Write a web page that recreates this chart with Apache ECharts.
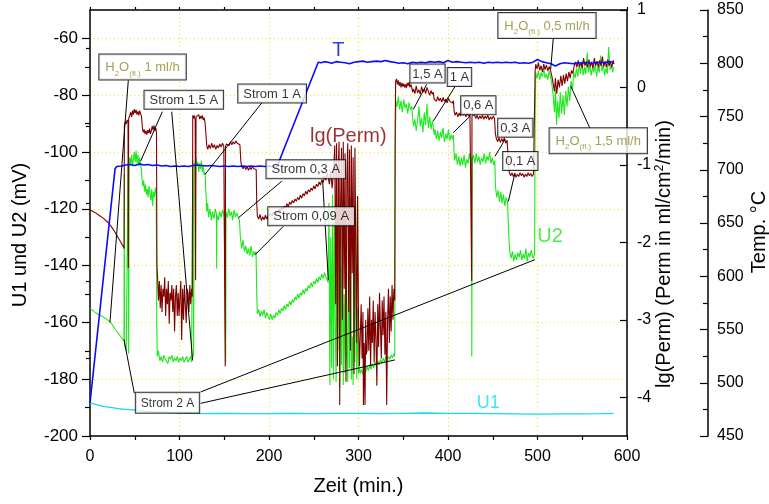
<!DOCTYPE html>
<html>
<head>
<meta charset="utf-8">
<title>U1, U2, lg(Perm), Temp.</title>
<script src="https://cdn.jsdelivr.net/npm/echarts@6/dist/echarts.min.js"></script>
<style>
html, body { margin: 0; padding: 0; background: #fff; }
#main { width: 769px; height: 504px; }
</style>
</head>
<body>
<div id="main"></div>
<script>
// Messwerte: [Zeit (min), Wert]
var u1Data = [
	[0,-188.3],[5,-188.8],[10,-189.2],[15,-189.6],[20,-189.8],[25,-190.0],[30,-190.3],[35,-190.5],[40,-190.6],[48,-190.8],
	[55,-191.1],[62,-191.3],[70,-191.4],[80,-191.6],[90,-191.8],[100,-191.9],[114,-192.0],[130,-192.1],[150,-192.0],[175,-192.1],
	[200,-192.1],[225,-192.0],[250,-192.1],[275,-192.0],[300,-192.0],[325,-192.1],[350,-192.0],[375,-191.9],[400,-192.0],[425,-192.0],
	[450,-192.1],[475,-192.2],[500,-192.3],[525,-192.2],[550,-192.2],[570,-192.1],[585,-192.0]
];

var u2Data = [
	[0,-155],[5,-156.3],[10,-157.3],[15,-158.1],[20,-159.2],[24,-160.4],[28,-162.4],[32,-164],[35,-165.3],[38,-166.5],
	[38.3,-108],[38.6,-168],[40.5,-170],[42.3,-170.5],[42.6,-104],[43.2,-171],[43.8,-103],
	[44.5,-102],[45.5,-104.5],[46.5,-101],[47.5,-105],[48.5,-102.5],[49.5,-100],[50.5,-103.5],[51.5,-99.5],[52.5,-104],[53.5,-101],[54.5,-105],[55.5,-102],[56.5,-104.5],[57.5,-106],
	[58,-109],[59,-112],[60,-110],[61,-114],[62,-111.5],[63,-115],[64,-113],[65,-116],[66,-112],[67,-114.5],[68,-117],[69,-113],[70,-119],[71,-114],[72,-116],[73,-112.5],[74,-115],
	[74.6,-160],[75.2,-172],[76.5,-170],[78,-173.5],[79.5,-172],[81,-174],[82.5,-171.5],[84,-173],[85.5,-172.5],[87,-174.5],[88.5,-172],[90,-173],[91.5,-171.5],[93,-174],[94.5,-172.5],
	[96,-173.5],[97.5,-172],[99,-174],[100.5,-172.5],[102,-173.5],[103.5,-172],[105,-174],[106.5,-173],[108,-172],[109.5,-174],[111,-173],[112.5,-172],[113.5,-174],
	[114.5,-120],[115,-103],[115.8,-172],[116.5,-104],[117.5,-106],[118.5,-102],[119.5,-105],[120.5,-103.5],[121.5,-107],[122.5,-104],[123.5,-106],[124.5,-103],[125.5,-107],[126.5,-105],[127.5,-108],[128.5,-107],
	[129.5,-114],[130.5,-121],[131.5,-118],[132.5,-123],[134,-120],[135.5,-124],[137,-121],[138.5,-123.5],[140,-120],[141.3,-122],[141.5,-141],[141.8,-122],[143.5,-124],[145,-121],[146.5,-123],
	[148,-120.5],[150,-122.5],[151.3,-122],[151.6,-174],[152,-121],[153.5,-123],[155,-120],[156.5,-122.5],[158,-121],[159.5,-124],[161,-120.5],[162.5,-123],[164,-121.5],[165.5,-122],[167,-124],
	[168,-130],[169.5,-134],[171,-131],[172.5,-135],[174,-133],[175.5,-136],[177,-134],[178.5,-136.5],[180,-133],[181.5,-137],[183,-135],[184.5,-136],[185.5,-135],
	[186.3,-150],[187,-157],[188.5,-155.5],[190,-158],[191.5,-156],[193,-157.5],[194.5,-155.5],[196,-158.5],[197.5,-156.5],[199,-158],[200.5,-159],[202,-157],[203.5,-159],[205,-157.5],
	[206.5,-158.5],[208,-156.5],[209.5,-157.5],[211,-155.5],[212.5,-157],[214,-155],[215.5,-156],[217,-154],[218.5,-155.5],[220,-153.5],[221.5,-154.5],[223,-152.5],[224.5,-154],[226,-152],
	[227.5,-153],[229,-151],[230.5,-152],[232,-150],[233.5,-151.5],[235,-149.5],[236.5,-150.5],[238,-148.5],[239.5,-150],[241,-148],[242.5,-149],[244,-147],[245.5,-148],[247,-146],
	[248.5,-147.5],[250,-145.5],[251.5,-146.5],[253,-144.5],[254.5,-146],[256,-144],[257.5,-145],[259,-143],[260.5,-144.5],[262,-142.5],[263.5,-144],[265,-145],
	[266,-146],[267,-118],[268,-182],[269,-130],[270,-176],[271,-115],[272,-180],[273,-125],[274,-160],[275,-181],[276,-120],[277,-170],[278,-114],[279,-183],[280,-140],[281,-175],
	[282,-117],[283,-182],[284,-150],[285,-178],[286,-122],[287,-172],[288,-181],[289,-130],[290,-176],[291,-116],[292,-180],[293,-165],[294,-182],[295,-135],[296,-174],[297,-118],
	[298,-180],[299,-155],[300,-178],[301,-176],
	[302,-178],[303.5,-176.5],[305,-178.5],[306.5,-176],[308,-177.5],[309.5,-175.5],[311,-177],[312.5,-175],[314,-176.5],[315.5,-174.5],[317,-176],[318.5,-174],[320,-175.5],[321.5,-173.5],
	[323,-175],[324.5,-173],[326,-174.5],[327.5,-172.5],[329,-174],[330.5,-172],[332,-173.5],[333.5,-172],[335,-173],[336.5,-171.5],[338,-172.5],[339.5,-171],[340.5,-172],
	[341,-100],[341.8,-82],[343,-84],[344.5,-80.5],[346,-85],[347.5,-82],[349,-86],[350.5,-81.5],[352,-84.5],[353.5,-83],[355,-86.5],[356.5,-82.5],[358,-85],[359.5,-84],
	[360.5,-88],[361.5,-91],[363,-88.5],[364.5,-92.5],[366,-89],[367.5,-84],[369,-91],[370.5,-88],[372,-93],[373.5,-86],[375,-90.5],[376.5,-83],[378,-91.5],[379.5,-87.5],[381,-92],[382.5,-89],[383.5,-91],
	[384.5,-94],[385.5,-92],[387,-95.5],[388.5,-92.5],[390,-96],[391.5,-93],[393,-95],[394.5,-91.5],[396,-96.5],[397.5,-93.5],[399,-95.5],[400.5,-92],[402,-96],[403.5,-94],[405,-95.5],[406,-94],
	[406.8,-100],[407.5,-103],[409,-100.5],[410.5,-104.5],[412,-101.5],[413.5,-105],[415,-102],[416.5,-104.5],[418,-101],[419.5,-105.5],[421,-102.5],[422.5,-104],[424,-100.5],[425.5,-103.5],
	[426.3,-102],[426.6,-172],[427,-103],[428.5,-101],[430,-104],[431.5,-100.5],[433,-103.5],[434.5,-101.5],[436,-104.5],[437.5,-102],[439,-103.5],[440.5,-100.5],[442,-104],[443.5,-101.5],
	[445,-103],[446.5,-100],[448,-104],[449.5,-102],[451,-104.5],[452.3,-103],
	[453,-112],[454.5,-116],[456,-113.5],[457.5,-117.5],[459,-114],[460.5,-118],[462,-115],[463.5,-119],[465,-116],[466.5,-117.5],[467.3,-118],
	[468,-130],[469,-135],[470.5,-137.5],[472,-135],[473.5,-138.5],[475,-136],[476.5,-138],[478,-135.5],[479.5,-137],[481,-134.5],[482.5,-138],[484,-136],[485.5,-137.5],[487,-134],
	[488.5,-138.5],[490,-135.5],[491.5,-137],[493,-134.5],[495,-137.5],[496.8,-136],
	[497.3,-90],[498,-72],[499.5,-74],[501,-71.5],[502.5,-74.5],[504,-72],[505.5,-73.5],[507,-70.5],[508.5,-74],[510,-72.5],[511.5,-74.5],[513,-71.5],[514.5,-73.5],[516,-76],
	[517.5,-80],[519,-86],[520,-78],[521.3,-90.5],[522.5,-82],[524,-88],[525.5,-79],[527,-86.5],[528.5,-80],[530,-87],[531.5,-78.5],[533,-84],[534.5,-77],[536,-82],[537.5,-75],[539,-78],
	[540.5,-72],[542,-74],[543.5,-70.5],[545,-73.5],[546.5,-69],[548,-72.5],[549.5,-68],[551,-73],[552.5,-70],[554,-72.5],[555.5,-65],[557,-72],[558.5,-69.5],[560,-73],[561.5,-70],
	[563,-72],[564.5,-69],[566,-73.5],[567.5,-70],[569,-72],[570.5,-66],[572,-71.5],[573.5,-69],[575,-73],[576.5,-70.5],[578,-72.5],[579.5,-63],[581,-71],[582.5,-69.5],[584,-72],[585,-70]
];

var permData = [
	[0,-1.58],[5,-1.61],[10,-1.65],[15,-1.69],[20,-1.74],[24,-1.8],[28,-1.87],[31,-1.93],[34,-1.99],[37,-2.05],[38.1,-2.08],
	[38.4,-0.5],[39.5,-0.44],[40.5,-0.47],[41.5,-0.42],[42.5,-0.45],[42.8,-2.33],[43.2,-0.4],[44.5,-0.36],[45.5,-0.32],[46.5,-0.38],[47.5,-0.3],[48.5,-0.35],[49.5,-0.28],[50.5,-0.33],
	[51.5,-0.29],[52.5,-0.35],[53.5,-0.31],[54.5,-0.36],[55.5,-0.3],[56.5,-0.34],[57.5,-0.37],
	[58.5,-0.52],[59.5,-0.58],[60.5,-0.54],[61.5,-0.6],[62.5,-0.56],[63.5,-0.61],[64.5,-0.55],[65.5,-0.59],[66.5,-0.53],[67.5,-0.6],[68.5,-0.56],[69.5,-0.5],[70.5,-0.55],[71.5,-0.49],
	[72.5,-0.56],[73.5,-0.52],[74.3,-0.58],
	[74.8,-2.3],[75.5,-2.45],[76.5,-2.75],[77.5,-2.5],[78.5,-2.85],[79.5,-2.55],[80.5,-2.9],[81.5,-2.6],[82.5,-2.7],[83.5,-2.45],[84.5,-2.95],[85.5,-2.6],[86.5,-2.8],[87.5,-2.5],
	[88.5,-3.05],[89.5,-2.65],[90.5,-2.75],[91.5,-2.55],[92.5,-2.9],[93.5,-2.6],[94.5,-3.15],[95.5,-2.7],[96.5,-2.55],[97.5,-2.95],[98.5,-2.65],[99.5,-2.95],[100.5,-2.7],[101.5,-2.5],
	[102.4,-3.26],[103.5,-2.6],[104.5,-3.0],[105.5,-2.55],[106.5,-2.8],[107.5,-3.04],[108.5,-2.6],[109.5,-2.65],[110.5,-2.9],[111.5,-2.55],[112.5,-2.8],[113.5,-2.6],[114.3,-2.7],
	[114.8,-0.36],[115.5,-0.4],[116.5,-0.36],[117.5,-0.42],[118,-2.49],[118.5,-0.38],[119.5,-0.36],[120.5,-0.4],[121.5,-0.35],[122.5,-0.41],[123.5,-0.37],[124.5,-0.4],[125.5,-0.36],
	[126.5,-0.42],[127.5,-0.39],[128.5,-0.45],
	[129.5,-0.6],[130.5,-0.75],[131.5,-0.8],[133,-0.74],[134.5,-0.79],[136,-0.72],[137.5,-0.78],[139,-0.74],[140.5,-0.8],[142,-0.75],[143.5,-0.78],[145,-0.73],[146.5,-0.77],[148,-0.72],
	[149.5,-0.76],[150.8,-0.74],[151.1,-3.6],[151.4,-0.76],[152.5,-0.73],[154,-0.71],[155.5,-0.75],[157,-0.7],[158.5,-0.74],[160,-0.7],[161.5,-0.73],[163,-0.69],[164.5,-0.72],[166,-0.7],[167.5,-0.74],
	[168.5,-0.95],[169.5,-1.02],[171,-1.05],[172.5,-1.01],[174,-1.06],[175.5,-1.02],[177,-1.07],[178.5,-1.03],[180,-1.06],[181.5,-1.02],[183,-1.05],[184.5,-1.04],[185.7,-1.06],
	[186.3,-1.5],[187,-1.66],[188.5,-1.7],[190,-1.64],[191.5,-1.72],[193,-1.67],[194.5,-1.71],[196,-1.65],[197.5,-1.7],[199,-1.66],[200.5,-1.68],[202,-1.63],[203.5,-1.66],[205,-1.61],
	[206.5,-1.64],[208,-1.59],[209.5,-1.62],[211,-1.57],[212.5,-1.6],[214,-1.55],[215.5,-1.58],[217,-1.53],[218.5,-1.56],[220,-1.5],[221.5,-1.54],[223,-1.48],[224.5,-1.51],[226,-1.46],
	[227.5,-1.49],[229,-1.44],[230.5,-1.47],[232,-1.42],[233.5,-1.45],[235,-1.39],[236.5,-1.43],[238,-1.37],[239.5,-1.4],[241,-1.34],[242.5,-1.38],[244,-1.32],[245.5,-1.35],[247,-1.3],
	[248.5,-1.33],[250,-1.27],[251.5,-1.31],[253,-1.25],[254.5,-1.28],[256,-1.22],[257.5,-1.26],[259,-1.19],[260.5,-1.23],[262,-1.14],[263.5,-1.2],[265,-1.1],
	[266,-1.15],[267.5,-1.25],[269,-1.08],[270.5,-1.3],[272,-1.12],[273.5,-0.75],[274.5,-2.8],[275.5,-0.72],[276.5,-3.6],[277.5,-1.0],[278.3,-0.7],[279,-4.1],[280,-1.5],[281,-0.78],
	[282,-3.0],[283,-0.7],[284,-2.6],[285,-0.85],[286,-3.8],[287,-1.2],[288,-0.72],[289,-2.9],[290,-0.8],[291,-3.4],[292,-0.75],[293,-2.4],[294,-0.9],[295,-3.7],[296,-0.78],[297,-2.1],
	[298,-3.3],[299,-1.4],[300,-3.0],[301,-3.6],
	[302,-3.2],[303,-2.8],[304,-3.5],[305,-2.9],[305.5,-4.1],[306.3,-3.3],[307.3,-4.1],[308,-3.0],[308.5,-3.45],[309.5,-3.4],[310.5,-2.85],[311.5,-3.4],[312.5,-2.7],[313.5,-3.6],
	[314.5,-3.0],[315.5,-3.3],[316.5,-2.75],[317.5,-3.55],[318.5,-2.9],[319.5,-3.25],[320.5,-3.85],[321.5,-2.8],[322.5,-3.35],[323.5,-2.65],[324.5,-3.1],[325.5,-3.5],[326.5,-2.75],
	[327.5,-3.2],[328.5,-2.7],[329.5,-3.45],[330.5,-2.9],[331.5,-4.1],[332.5,-3.0],[333.5,-2.6],[334.5,-3.3],[335.5,-2.7],[336.5,-3.15],[337.5,-2.55],[338.5,-3.0],[339.5,-2.6],[340.5,-2.75],
	[341,-0.5],[341.5,0.08],[342.5,0.11],[343.5,0.04],[344.5,0.09],[345.5,0.02],[346.5,0.07],[347.5,0.0],[348.5,0.06],[349.5,0.01],[350.5,0.05],[351.5,0.0],[352.5,0.04],[353.5,-0.01],
	[354.5,0.06],[355.5,0.02],[356.5,0.07],[357.5,0.0],[358.5,0.04],[359.5,0.0],
	[360.5,-0.06],[361.5,-0.02],[363,-0.08],[364.5,0.02],[366,-0.07],[367.5,-0.03],[369,-0.09],[370.5,0.01],[372,-0.06],[373.5,-0.02],[375,-0.08],[376.5,0.0],[378,-0.05],[379.5,-0.1],
	[381,-0.04],[382.5,-0.09],[383.5,-0.06],
	[384.5,-0.15],[385.5,-0.13],[387,-0.18],[388.5,-0.12],[390,-0.17],[391.5,-0.14],[393,-0.19],[394.5,-0.13],[396,-0.18],[397.5,-0.15],[399,-0.2],[400.5,-0.14],[402,-0.18],[403.5,-0.16],
	[405,-0.2],[406,-0.17],
	[406.8,-0.3],[408,-0.36],[409.5,-0.32],[411,-0.38],[412.5,-0.33],[414,-0.37],[415.5,-0.31],[417,-0.36],[418.5,-0.33],[420,-0.38],[421.5,-0.32],[423,-0.37],[424.5,-0.34],[426.2,-0.36],
	[426.5,-2.5],[426.8,-0.37],[428,-0.38],[429.5,-0.35],[431,-0.4],[432.5,-0.36],[434,-0.41],[435.5,-0.37],[437,-0.4],[438.5,-0.36],[440,-0.41],[441.5,-0.37],[443,-0.4],[444.5,-0.36],
	[446,-0.42],[447.5,-0.38],[449,-0.41],[450.5,-0.37],[452,-0.4],
	[453,-0.6],[454,-0.66],[455.5,-0.7],[457,-0.65],[458.5,-0.71],[460,-0.66],[461.5,-0.7],[463,-0.65],[464.5,-0.72],[466,-0.68],[467.2,-0.7],
	[467.8,-1.0],[468.5,-1.1],[470,-1.14],[471.5,-1.1],[473,-1.15],[474.5,-1.11],[476,-1.16],[477.5,-1.12],[479,-1.15],[480.5,-1.1],[482,-1.14],[483.5,-1.11],[485,-1.16],[486.5,-1.12],
	[488,-1.15],[489.5,-1.1],[491,-1.14],[492.5,-1.11],[494,-1.15],[495.5,-1.12],[497,-1.13],
	[497.3,0.2],[498,0.3],[499.5,0.24],[501,0.32],[502.5,0.22],[504,0.28],[505.5,0.2],[507,0.3],[508.5,0.23],[510,0.29],[511.5,0.21],[513,0.27],[514.5,0.22],[516,0.15],
	[517.5,0.05],[519,-0.05],[520,0.12],[521.5,-0.08],[523,0.1],[524.5,0.0],[526,0.15],[527.5,0.02],[529,0.16],[530.5,0.05],[532,0.18],[533.5,0.08],[535,0.2],[536.5,0.12],[538,0.22],[539.5,0.18],
	[541,0.28],[542.5,0.33],[544,0.26],[545.5,0.35],[547,0.27],[548.5,0.32],[550,0.25],[551.5,0.38],[553,0.28],[554.5,0.33],[556,0.26],[557.5,0.36],[559,0.27],[560.5,0.33],[562,0.25],
	[563.5,0.38],[565,0.28],[566.5,0.34],[568,0.26],[569.5,0.35],[571,0.28],[572.5,0.4],[574,0.27],[575.5,0.34],[577,0.26],[578.5,0.36],[580,0.28],[581.5,0.33],[583,0.26],[584.5,0.35],[585.5,0.3]
];

var tempData = [
	[0,481],[28,701],[30,703],[35,703.5],[40,704.5],[45,705],[50,704],[55,705.5],[60,704.5],[65,705],[70,704],[75,704.5],[80,703.5],[85,704],[90,703],[95,703.5],
	[100,703],[105,703.5],[110,703],[115,704],[120,704.5],[125,704],[130,703.5],[135,704],[140,703.5],[145,703],[150,703.5],[155,703],[160,703.5],[165,703],[170,703.5],
	[175,703],[180,703.5],[185,703],[190,703.5],[195,703],[200,703.5],[205,703],[209,703],[255,801],[258,800.5],[262,801.5],[266,801],[270,800],[275,801.5],[280,801],
	[285,800.5],[290,799.5],[295,801],[300,801.5],[305,802],[310,801],[315,801.5],[320,802],[325,801.5],[330,802.5],[335,801.5],[340,801],[345,800],[350,800.5],[355,799.5],
	[360,801],[365,800.5],[370,801],[375,800.5],[380,801.5],[385,801],[390,801.5],[395,800.5],[400,802.5],[405,801],[410,801.5],[415,801],[420,800.5],[425,801],[430,800.5],
	[435,801],[440,800],[445,801],[450,800.5],[455,801],[460,800.5],[465,801],[470,800.5],[475,801],[480,800],[485,800.5],[490,800],[495,801],[500,803.5],[505,801.5],
	[510,800.5],[515,799.5],[520,797.5],[525,799.5],[530,800.5],[535,800],[540,799.5],[545,800.5],[550,800],[555,801],[560,800],[565,800.5],[570,801],[575,800.5],[580,801.5],[585,801]
];

// Achsenteilung
var mvTicks = [-200, -180, -160, -140, -120, -100, -80, -60];
var mvMinorTicks = [-190, -170, -150, -130, -110, -90, -70];
var permTicks = [-4, -3, -2, -1, 0, 1];
var permMinorTicks = [-3.5, -2.5, -1.5, -0.5, 0.5];

// Kaesten: [Zeit, mV, Text, Art]
var boxNotes = [
	[58.7, -70.1, '1 ml/h', 'h2o'],
	[104.8, -81.6, 'Strom 1.5 A', 'box'],
	[203.5, -79.4, 'Strom 1 A', 'box'],
	[241.1, -106.1, 'Strom 0,3 A', 'box'],
	[247.1, -122.6, 'Strom 0,09 A', 'box'],
	[377.1, -72.4, '1,5 A', 'tag'],
	[412.8, -73.6, '1 A', 'tag'],
	[433.9, -83.5, '0,6 A', 'tag'],
	[475.2, -91.5, '0,3 A', 'tag'],
	[480.8, -103.2, '0,1 A', 'tag'],
	[510.6, -55.5, '0,5 ml/h', 'h2o'],
	[567.9, -96.0, '1,5 ml/h', 'h2o'],
	[86.6, -188.3, 'Strom 2 A', 'small']
];

// Kurvennamen: [Zeit, mV, Text]
var curveNames = [
	[277.4, -64.4, 'T'],
	[288.6, -94.4, 'lg(Perm)'],
	[514.0, -129.8, 'U2'],
	[445.0, -188.5, 'U1']
];

// Pfeile: [Zeit von, mV von, Zeit bis, mV bis]
var arrows = [
	[42.8, -74.8, 22.3, -160.0],
	[80.8, -85.8, 56.6, -103.2],
	[91.3, -85.8, 114.7, -173.4],
	[192.2, -82.6, 128.5, -107.9],
	[214.2, -110.3, 165.7, -123.2],
	[260.0, -110.3, 266.3, -145.0],
	[216.0, -126.2, 184.4, -136.2],
	[376.2, -76.2, 361.2, -85.0],
	[407.8, -77.0, 383.6, -89.1],
	[424.6, -87.4, 405.9, -93.2],
	[463.7, -95.6, 452.5, -101.5],
	[474.9, -107.3, 467.4, -117.4],
	[517.6, -60.1, 514.7, -70.9],
	[558.4, -91.5, 537.1, -76.8],
	[49.5, -184.9, 38.0, -166.1],
	[123.6, -184.5, 497.2, -137.9],
	[123.6, -188.5, 340.8, -173.2]
];

var FONT = "'Liberation Sans', Arial, sans-serif";
var OLIVE = '#8a8a28';
var nameColors = { 'T': '#0000ff', 'lg(Perm)': '#800000', 'U2': '#1ee81e', 'U1': '#14dcec' };
var nameSizes = { 'T': 20, 'lg(Perm)': 20, 'U2': 20, 'U1': 18 };

function noteText(n) {
	if (n[3] === 'h2o') {
		return '{h|H}{s|2}{h|O}{s|(fl.)}{h| ' + n[2] + '}';
	}
	return '{b|' + n[2] + '}';
}

function notePadding(kind) {
	if (kind === 'h2o') return [3, 6, 2, 6];
	if (kind === 'tag') return [2, 2, 1, 2];
	if (kind === 'small') return [3, 5, 2, 5];
	return [2, 5, 1, 5];
}

var axisLine = { show: true, onZero: false, lineStyle: { color: '#000', width: 1.5 } };
var tickStyle = { color: '#000', width: 1.2 };
var gridLine = { color: '#e8e800', type: [1, 3], width: 1 };

var chart = echarts.init(document.getElementById('main'));

var option = {
	animation: false,
	backgroundColor: '#fff',
	textStyle: { fontFamily: FONT },
	grid: { left: 90, right: 142, top: 10, bottom: 68, containLabel: false, outerBoundsMode: 'none' },
	xAxis: [
		{
			type: 'value', min: 0, max: 600, interval: 100, position: 'bottom',
			axisLine: axisLine,
			axisTick: { length: 4, lineStyle: tickStyle },
			minorTick: { show: true, splitNumber: 2, length: 4, lineStyle: tickStyle },
			axisLabel: { fontSize: 16, color: '#000', margin: 13, fontFamily: FONT },
			splitLine: { show: true, lineStyle: gridLine },
			name: 'Zeit (min.)', nameLocation: 'middle', nameGap: 40, nameMoveOverlap: false,
			nameTextStyle: { fontSize: 20, color: '#000', fontFamily: FONT }
		},
		{
			type: 'value', min: 0, max: 600, interval: 50, position: 'top',
			axisLine: axisLine,
			axisTick: { length: 3, lineStyle: tickStyle },
			axisLabel: { show: false },
			splitLine: { show: false }
		}
	],
	yAxis: [
		{
			type: 'value', min: -200, max: -50, interval: 20, position: 'left',
			axisLine: axisLine,
			axisTick: { length: 8, lineStyle: tickStyle, customValues: mvTicks },
			axisLabel: { fontSize: 17, color: '#000', margin: 12, fontFamily: FONT, customValues: mvTicks },
			splitLine: { show: true, lineStyle: gridLine },
			name: 'U1 und U2 (mV)', nameLocation: 'middle', nameGap: 60, nameMoveOverlap: false,
			nameTextStyle: { fontSize: 20, color: '#000', fontFamily: FONT, padding: [0, 24, 0, 0] }
		},
		{
			// kleine Striche links
			type: 'value', min: -200, max: -50, interval: 10, position: 'left',
			axisLine: { show: false },
			axisTick: { length: 5, lineStyle: tickStyle, customValues: mvMinorTicks },
			axisLabel: { show: false },
			splitLine: { show: false }
		},
		{
			type: 'value', min: -4.5, max: 1, splitNumber: 5, position: 'right',
			axisLine: axisLine,
			axisTick: { inside: true, length: 7, lineStyle: tickStyle, customValues: permTicks },
			axisLabel: { fontSize: 16, color: '#000', margin: 10, fontFamily: FONT, customValues: permTicks },
			splitLine: { show: false },
			name: '{n|lg(Perm) (Perm in ml/cm}{sup|2}{n|/min)}', nameLocation: 'middle', nameGap: 27, nameMoveOverlap: false,
			nameTextStyle: {
				fontSize: 20, color: '#000', fontFamily: FONT, padding: [0, 62, 0, 0],
				rich: {
					n: { fontSize: 20, color: '#000', fontFamily: FONT },
					sup: { fontSize: 12, color: '#000', fontFamily: FONT, verticalAlign: 'top', lineHeight: 12 }
				}
			}
		},
		{
			// kleine Striche rechts
			type: 'value', min: -4.5, max: 1, interval: 0.5, position: 'right',
			axisLine: { show: false },
			axisTick: { inside: true, length: 4, lineStyle: tickStyle, customValues: permMinorTicks },
			axisLabel: { show: false },
			splitLine: { show: false }
		},
		{
			type: 'value', min: 450, max: 850, interval: 50, position: 'right', offset: 81,
			axisLine: axisLine,
			axisTick: { inside: true, length: 8, lineStyle: tickStyle },
			minorTick: { show: true, splitNumber: 2, length: 5, lineStyle: tickStyle },
			axisLabel: { fontSize: 16, color: '#000', margin: 9, fontFamily: FONT },
			splitLine: { show: false },
			name: 'Temp. °C', nameLocation: 'middle', nameGap: 41, nameMoveOverlap: false,
			nameTextStyle: { fontSize: 20, color: '#000', fontFamily: FONT, padding: [0, 18, 0, 0] }
		}
	],
	series: [
		{
			name: 'U1', type: 'line', xAxisIndex: 0, yAxisIndex: 0, data: u1Data,
			showSymbol: false, symbol: 'none', silent: true,
			lineStyle: { color: '#14dcec', width: 1.3 }
		},
		{
			name: 'U2', type: 'line', xAxisIndex: 0, yAxisIndex: 0, data: u2Data,
			showSymbol: false, symbol: 'none', silent: true,
			lineStyle: { color: '#1ee81e', width: 1.1 }
		},
		{
			name: 'lg(Perm)', type: 'line', xAxisIndex: 0, yAxisIndex: 2, data: permData,
			showSymbol: false, symbol: 'none', silent: true,
			lineStyle: { color: '#800000', width: 1.1 }
		},
		{
			name: 'T', type: 'line', xAxisIndex: 0, yAxisIndex: 4, data: tempData,
			showSymbol: false, symbol: 'none', silent: true,
			lineStyle: { color: '#0a0aff', width: 1.6 }
		},
		{
			// Pfeile
			type: 'line', xAxisIndex: 0, yAxisIndex: 0, data: [], z: 5, silent: true,
			markLine: {
				silent: true, animation: false,
				symbol: ['none', 'arrow'], symbolSize: [0, 8],
				label: { show: false },
				emphasis: { disabled: true },
				lineStyle: { color: '#000', width: 1, type: 'solid' },
				data: arrows.map(function(a) {
					return [{ coord: [a[0], a[1]] }, { coord: [a[2], a[3]] }];
				})
			}
		},
		{
			// Kaesten und Kurvennamen
			type: 'scatter', xAxisIndex: 0, yAxisIndex: 0, z: 8, silent: true,
			symbol: 'circle', symbolSize: 1,
			itemStyle: { color: 'rgba(0,0,0,0)' },
			data: boxNotes.map(function(n) {
				return {
					value: [n[0], n[1]],
					label: {
						show: true, position: 'inside',
						formatter: noteText(n),
						backgroundColor: '#fff', borderColor: '#000', borderWidth: 1,
						padding: notePadding(n[3]),
						rich: {
							h: { fontSize: 13, color: OLIVE, fontFamily: FONT, lineHeight: 20 },
							s: { fontSize: 8, color: OLIVE, fontFamily: FONT, lineHeight: 8, verticalAlign: 'bottom' },
							b: { fontSize: n[3] === 'small' ? 12 : 13, color: '#000', fontFamily: FONT, lineHeight: 15 }
						}
					}
				};
			}).concat(curveNames.map(function(c) {
				return {
					value: [c[0], c[1]],
					label: {
						show: true, position: 'inside', formatter: c[2],
						color: nameColors[c[2]], fontSize: nameSizes[c[2]], fontFamily: FONT
					}
				};
			}))
		}
	]
};

chart.setOption(option);
</script>
</body>
</html>
